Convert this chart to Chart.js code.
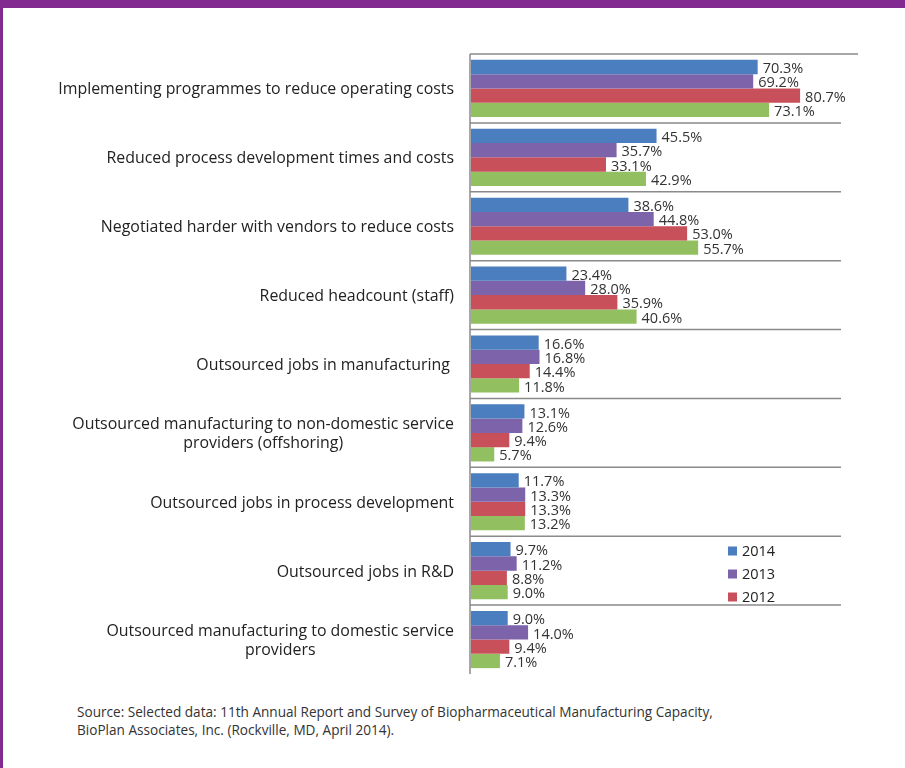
<!DOCTYPE html>
<html>
<head>
<meta charset="utf-8">
<script src="https://cdn.jsdelivr.net/npm/chart.js@4"></script>
<style>
  html, body { margin: 0; padding: 0; background: #fff; }
  #frame {
    position: relative;
    width: 902px;
    height: 760px;
    border-top: 8px solid #832a91;
    border-left: 3px solid #832a91;
    overflow: hidden;
  }
  #wrap { position: absolute; left: -3px; top: -8px; width: 905px; height: 700px; }
  #source {
    position: absolute;
    left: 74px;
    top: 695px;
    font-family: "Open Sans", sans-serif;
    font-size: 13.6px;
    line-height: 18px;
    color: #333;
  }
</style>
</head>
<body>
<div id="frame">
  <div id="wrap"><canvas id="grafico" width="905" height="700"></canvas></div>
  <div id="source">Source: Selected data: 11th Annual Report and Survey of Biopharmaceutical Manufacturing Capacity,<br>BioPlan Associates, Inc. (Rockville, MD, April 2014).</div>
</div>
<script>
const categorias = [
  ["Implementing programmes to reduce operating costs"],
  ["Reduced process development times and costs"],
  ["Negotiated harder with vendors to reduce costs"],
  ["Reduced headcount (staff)"],
  ["Outsourced jobs in manufacturing "],
  ["Outsourced manufacturing to non-domestic service", "providers (offshoring)"],
  ["Outsourced jobs in process development"],
  ["Outsourced jobs in R&D"],
  ["Outsourced manufacturing to domestic service", "providers"]
];
const anios = ["2014", "2013", "2012", "2011"];
const valores2014 = [70.3, 45.5, 38.6, 23.4, 16.6, 13.1, 11.7, 9.7, 9.0];
const valores2013 = [69.2, 35.7, 44.8, 28.0, 16.8, 12.6, 13.3, 11.2, 14.0];
const valores2012 = [80.7, 33.1, 53.0, 35.9, 14.4, 9.4, 13.3, 8.8, 9.4];
const valores2011 = [73.1, 42.9, 55.7, 40.6, 11.8, 5.7, 13.2, 9.0, 7.1];
const anioEnLeyenda = ["2014", "2013", "2012"];

const colores = ["#4a7ebf", "#7d63aa", "#c8505a", "#92bf5f"];
const fuente = '"Open Sans", sans-serif';

// labels, lines and legend drawn on top of the bars
const decoracion = {
  id: "decoracion",
  afterDatasetsDraw(chart) {
    const ctx = chart.ctx;
    const area = chart.chartArea;
    const y = chart.scales.y;
    ctx.save();

    // value labels
    ctx.font = "14.5px " + fuente;
    ctx.fillStyle = "#333";
    ctx.textAlign = "left";
    ctx.textBaseline = "middle";
    chart.data.datasets.forEach((ds, i) => {
      chart.getDatasetMeta(i).data.forEach((bar, j) => {
        ctx.fillText(ds.data[j].toFixed(1) + "%", bar.x + 5, bar.y + 2);
      });
    });

    // category labels
    ctx.font = "15.9px " + fuente;
    ctx.fillStyle = "#222";
    const derecha = 454;
    categorias.forEach((lineas, i) => {
      const cy = y.getPixelForValue(i) + 1.5;
      const alto = 19;
      const y0 = cy - (lineas.length - 1) * alto / 2;
      if (lineas.length === 1) {
        ctx.textAlign = "right";
        ctx.fillText(lineas[0], derecha, y0);
      } else {
        const ancho = Math.max(...lineas.map((l) => ctx.measureText(l).width));
        ctx.textAlign = "center";
        lineas.forEach((l, k) => ctx.fillText(l, derecha - ancho / 2, y0 + k * alto));
      }
    });

    // axis line, top line and separators
    ctx.strokeStyle = "#8a8a8a";
    ctx.lineWidth = 1.5;
    ctx.beginPath();
    ctx.moveTo(area.left - 1, area.top);
    ctx.lineTo(area.left - 1, area.bottom);
    ctx.moveTo(area.left - 1, area.top);
    ctx.lineTo(area.right, area.top);
    for (let i = 1; i < categorias.length; i++) {
      const sy = (y.getPixelForValue(i - 1) + y.getPixelForValue(i)) / 2;
      ctx.moveTo(area.left - 1, sy);
      ctx.lineTo(841, sy);
    }
    ctx.stroke();

    // legend
    ctx.font = "14.5px " + fuente;
    ctx.textAlign = "left";
    chart.data.datasets
      .filter((ds) => anioEnLeyenda.includes(ds.label))
      .forEach((ds, k) => {
        const ly = 551 + k * 23;
        ctx.fillStyle = ds.backgroundColor;
        ctx.fillRect(728, ly - 4.5, 9, 9);
        ctx.fillStyle = "#222";
        ctx.fillText(ds.label, 742, ly + 1);
      });

    ctx.restore();
  },
};

const series = [valores2014, valores2013, valores2012, valores2011];

new Chart(document.getElementById("grafico"), {
  type: "bar",
  data: {
    labels: categorias.map((c) => c.join(" ")),
    datasets: series.map((vals, i) => ({
      label: anios[i],
      data: vals,
      backgroundColor: colores[i],
      borderWidth: 0,
      categoryPercentage: 0.83,
      barPercentage: 1.0,
    })),
  },
  options: {
    indexAxis: "y",
    responsive: false,
    animation: false,
    layout: { padding: { left: 471, top: 54, right: 47, bottom: 26 } },
    plugins: { legend: { display: false }, tooltip: { enabled: false } },
    scales: {
      x: { display: false, min: 0, max: 94.9 },
      y: { display: false },
    },
  },
  plugins: [decoracion],
});
</script>
</body>
</html>
